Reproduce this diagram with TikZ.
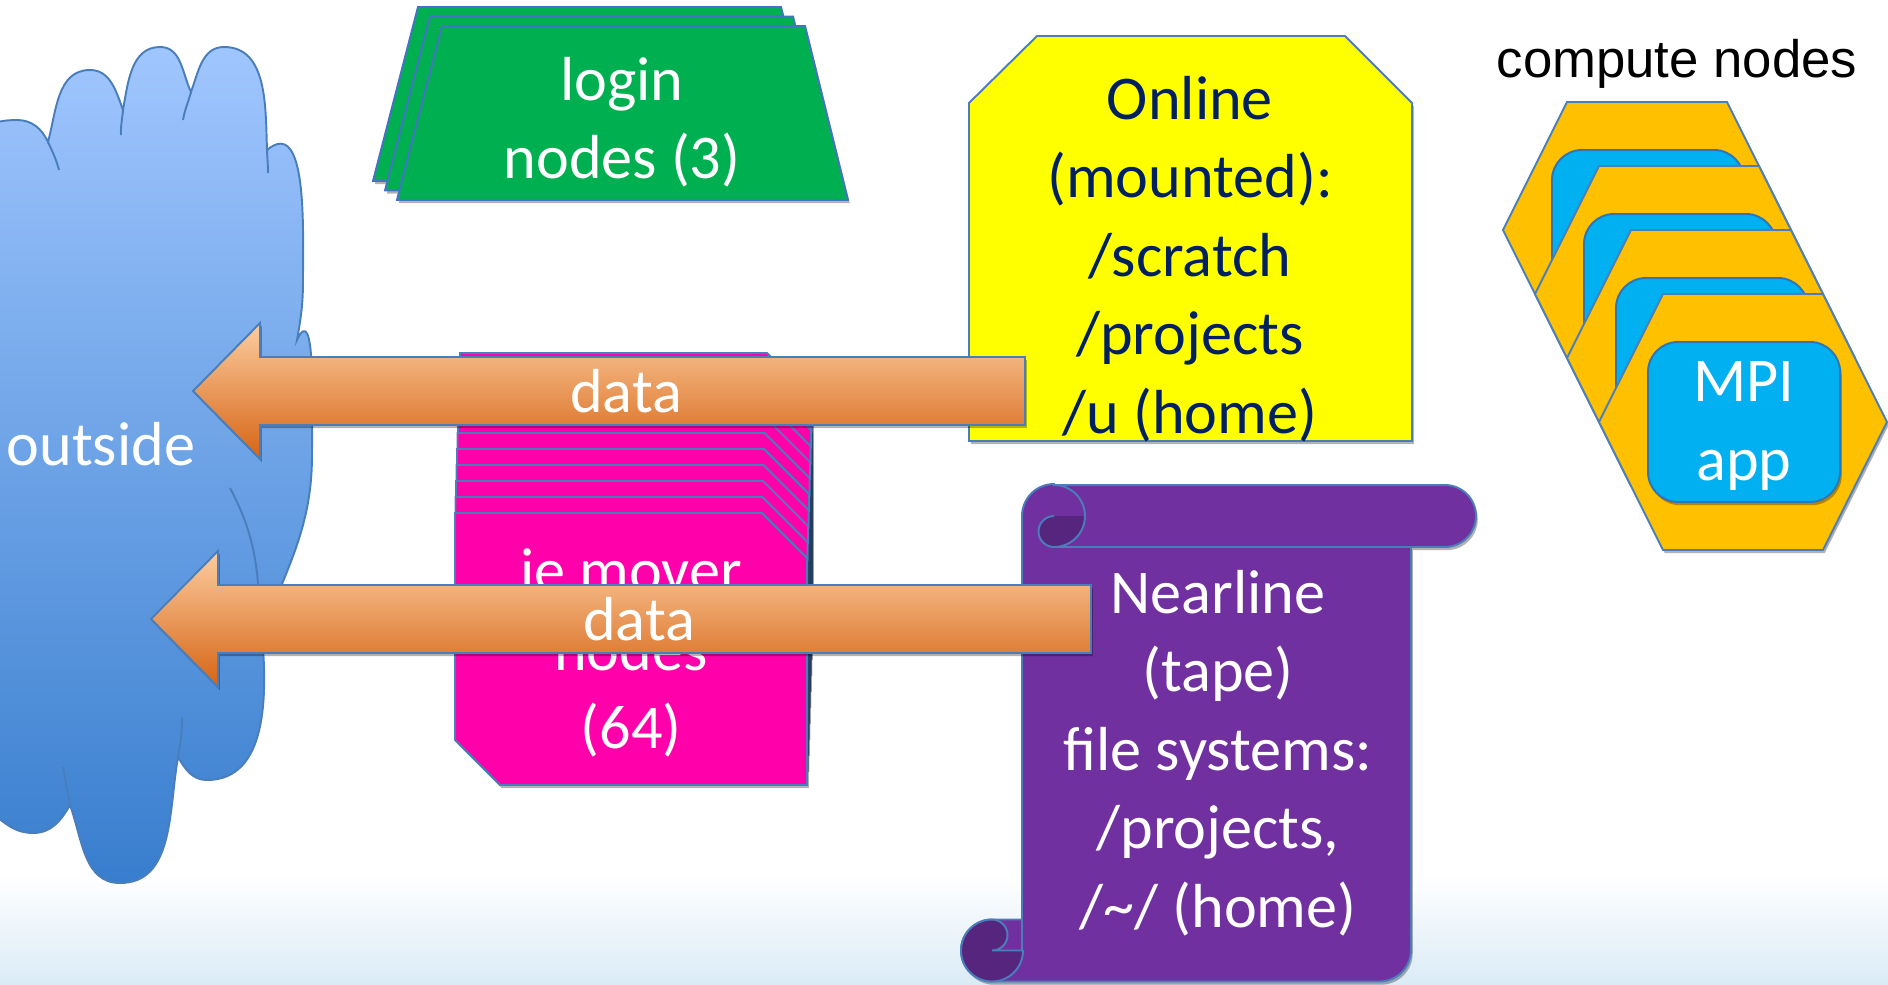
\documentclass[tikz,border=0pt]{standalone}
\usepackage{fontspec}
\setmainfont{Carlito}
\newfontfamily\arialfont{Liberation Sans}
\usetikzlibrary{shadows}

\definecolor{edgeblue}{RGB}{74,126,187}
\definecolor{cloudtop}{RGB}{160,198,254}
\definecolor{cloudbottom}{RGB}{56,126,206}
\definecolor{logingreen}{RGB}{0,176,80}
\definecolor{loginedge}{RGB}{68,114,196}
\definecolor{onlineyellow}{RGB}{255,255,0}
\definecolor{navytext}{RGB}{0,32,96}
\definecolor{moverpink}{RGB}{255,0,170}
\definecolor{scrollpurple}{RGB}{112,48,160}
\definecolor{scrolldark}{RGB}{86,38,126}
\definecolor{hexorange}{RGB}{255,192,0}
\definecolor{appblue}{RGB}{0,176,240}
\definecolor{appedge}{RGB}{46,117,182}
\definecolor{arrowtop}{RGB}{252,205,160}
\definecolor{arrowmiddle}{RGB}{245,160,90}
\definecolor{arrowbottom}{RGB}{214,100,20}
\definecolor{floorblue}{RGB}{218,235,246}

\begin{document}
\begin{tikzpicture}[font=\fontsize{17.7}{22.3}\selectfont]
    \tikzstyle{soft shadow} = [drop shadow={shadow xshift=0.5pt, shadow yshift=-0.9pt, opacity=0.3, fill=black}]
    \tikzstyle{cloud shape} = [draw=edgeblue, line width=0.55pt, top color=cloudtop, bottom color=cloudbottom]
    \tikzstyle{cloud line} = [draw=edgeblue, line width=0.55pt]
    \tikzstyle{login shape} = [draw=loginedge, line width=0.55pt, fill=logingreen, soft shadow]
    \tikzstyle{online shape} = [draw=edgeblue, line width=0.55pt, fill=onlineyellow, soft shadow]
    \tikzstyle{mover shape} = [draw=edgeblue, line width=0.55pt, fill=moverpink, soft shadow]
    \tikzstyle{scroll shape} = [draw=edgeblue, line width=0.55pt, fill=scrollpurple, soft shadow]
    \tikzstyle{scroll line} = [draw=edgeblue, line width=0.55pt]
    \tikzstyle{hex shape} = [draw=edgeblue, line width=0.55pt, fill=hexorange, soft shadow]
    \tikzstyle{app shape} = [draw=appedge, line width=0.55pt, fill=appblue, rounded corners=0.3cm, soft shadow]
    \tikzstyle{data arrow} = [draw=edgeblue, line width=0.55pt, top color=arrowtop, middle color=arrowmiddle, bottom color=arrowbottom, soft shadow]
    \tikzstyle{white text} = [text=white, align=center]
    \tikzstyle{online text} = [text=navytext, align=center]
    \tikzstyle{label text} = [text=black, font=\arialfont\fontsize{15}{18}\selectfont]

    \useasboundingbox (0,0) rectangle (18.88,-9.84);
    \shade[top color=white, bottom color=floorblue] (0,-8.75) rectangle (18.88,-9.84);

    % outside cloud
    \draw[cloud shape] (-0.4,-1.5) to[out=60,in=180] (0.17,-1.20) to[out=0,in=115] (0.48,-1.42)
        to[out=75,in=180] (0.90,-0.70) to[out=0,in=110] (1.23,-1.10)
        to[out=80,in=180] (1.60,-0.47) to[out=0,in=115] (1.91,-0.92)
        to[out=70,in=180] (2.24,-0.47) to[out=0,in=92] (2.67,-1.50)
        to[out=40,in=90] (3.03,-2.80) to[out=-90,in=80] (2.97,-3.40)
        to[out=65,in=90] (3.12,-4.55) to[out=-90,in=70] (2.62,-6.35)
        to[out=-85,in=0] (2.07,-7.80) to[out=180,in=-60] (1.78,-7.57)
        to[out=-100,in=0] (1.20,-8.83) to[out=180,in=-70] (0.70,-8.05)
        to[out=-120,in=0] (0.33,-8.33) to[out=180,in=-20] (-0.3,-8.0)
        -- (-0.6,-8.0) -- (-0.6,-1.5) -- cycle;
    \draw[cloud line] (0.48,-1.42) to[out=-65,in=105] (0.59,-1.70);
    \draw[cloud line] (1.23,-1.10) to[out=-95,in=92] (1.21,-1.35);
    \draw[cloud line] (1.91,-0.92) to[out=-105,in=80] (1.83,-1.20);
    \draw[cloud line] (2.67,-1.50) to[out=-88,in=90] (2.68,-1.73);
    \draw[cloud line] (2.30,-4.88) to[out=-62,in=92] (2.60,-6.20);
    \draw[cloud line] (1.82,-7.17) to[out=-90,in=80] (1.78,-7.57);
    \draw[cloud line] (0.63,-7.67) to[out=-80,in=100] (0.70,-8.05);
    \node[white text] (outside) at (1.01,-4.44) {outside};

    % login nodes
    \foreach \k in {2,1,0}{
        \begin{scope}[shift={(-0.12*\k,0.095*\k)}]
            \draw[login shape] (4.42,-0.26) -- (8.05,-0.26) -- (8.48,-2.00) -- (3.97,-2.00) -- cycle;
        \end{scope}
    }
    \node[white text] (login) at (6.22,-1.22) {login\\nodes (3)};

    % online file systems
    \draw[online shape] (10.37,-0.36) -- (13.45,-0.36) -- (14.12,-1.03) -- (14.12,-4.41) -- (9.69,-4.41) -- (9.69,-1.03) -- cycle;
    \node[online text] (online) at (11.90,-2.59) {Online\\(mounted):\\/scratch\\/projects\\/u (home)};

    % mover nodes
    \foreach \k in {10,...,0}{
        \begin{scope}[shift={(0.005*\k,0.16*\k)}]
            \draw[mover shape] (4.55,-5.13) -- (7.62,-5.13) -- (8.07,-5.58) -- (8.07,-7.85) -- (5.00,-7.85) -- (4.55,-7.40) -- cycle;
        \end{scope}
    }
    \node[white text] (mover) at (6.31,-6.53) {ie mover\\nodes\\(64)};

    % nearline scroll
    \draw[scroll shape] (10.54,-4.85) -- (14.45,-4.85) arc[start angle=90, end angle=-90, radius=0.31]
        -- (14.11,-5.47) -- (14.11,-9.50) arc[start angle=0, end angle=-90, radius=0.315]
        -- (9.92,-9.815) arc[start angle=270, end angle=90, radius=0.31]
        -- (10.22,-9.195) -- (10.22,-5.16) arc[start angle=180, end angle=90, radius=0.32] -- cycle;
    \fill[scrolldark] (10.85,-5.16) -- (10.54,-5.16) arc[start angle=90, end angle=270, radius=0.155]
        arc[start angle=270, end angle=360, radius=0.31] -- cycle;
    \draw[scroll line] (10.54,-4.85) arc[start angle=90, end angle=-90, radius=0.31] -- (14.11,-5.47);
    \draw[scroll line] (10.54,-5.16) arc[start angle=90, end angle=270, radius=0.155];
    \fill[scrolldark] (9.92,-9.195) arc[start angle=90, end angle=360, radius=0.31]
        -- (9.92,-9.505) arc[start angle=-90, end angle=90, radius=0.155] -- cycle;
    \draw[scroll line] (9.92,-9.815) arc[start angle=270, end angle=360, radius=0.31]
        -- (9.92,-9.505) arc[start angle=-90, end angle=90, radius=0.155];
    \draw[scroll line] (9.92,-9.195) arc[start angle=90, end angle=270, radius=0.31];
    \draw[scroll line] (9.92,-9.195) -- (10.22,-9.195) -- (10.22,-9.505);
    \node[white text] (nearline) at (12.18,-7.53) {Nearline\\(tape)\\file systems:\\/projects,\\/\textasciitilde/ (home)};

    % compute nodes
    \foreach \k in {3,2,1,0}{
        \begin{scope}[shift={(-0.32*\k,0.64*\k)}]
            \draw[hex shape] (16.63,-2.94) -- (18.23,-2.94) -- (18.87,-4.22) -- (18.23,-5.50) -- (16.63,-5.50) -- (15.99,-4.22) -- cycle;
            \draw[app shape] (16.48,-3.42) rectangle (18.40,-5.02);
        \end{scope}
    }
    \node[white text] (mpi) at (17.44,-4.26) {MPI\\app};
    \node[label text] (compute) at (16.77,-0.64) {compute nodes};

    % data arrows
    \draw[data arrow] (1.93,-3.91) -- (2.60,-3.23) -- (2.60,-3.57) -- (10.25,-3.57) -- (10.25,-4.25) -- (2.60,-4.25) -- (2.60,-4.59) -- cycle;
    \node[white text] (datatop) at (6.26,-3.91) {data};
    \draw[data arrow] (1.51,-6.19) -- (2.18,-5.51) -- (2.18,-5.85) -- (10.91,-5.85) -- (10.91,-6.53) -- (2.18,-6.53) -- (2.18,-6.87) -- cycle;
    \node[white text] (databottom) at (6.39,-6.19) {data};

\end{tikzpicture}
\end{document}
